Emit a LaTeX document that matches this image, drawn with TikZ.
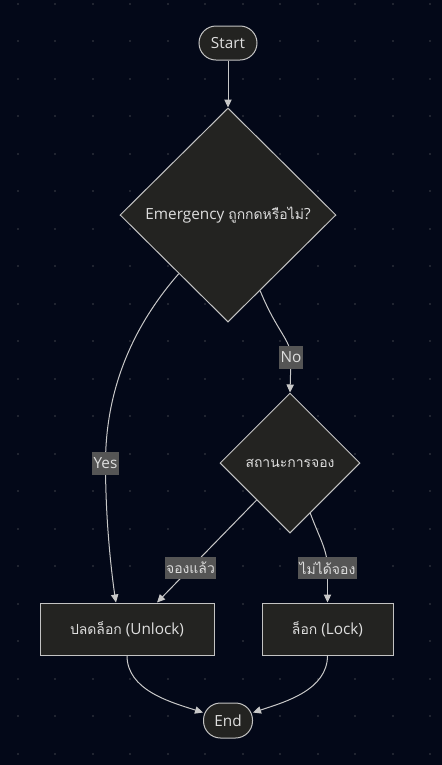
\documentclass[tikz,border=0pt]{standalone}
\usepackage{fontspec}
\setmainfont{Open Sans}
\newfontfamily\thai[Script=Thai,Scale=0.91]{Loma}
\usetikzlibrary{arrows.meta,shapes.geometric}
\definecolor{bgc}{RGB}{3,8,24}
\definecolor{dotc}{RGB}{32,36,48}
\definecolor{nfill}{RGB}{35,35,33}
\definecolor{nline}{RGB}{195,195,195}
\definecolor{eline}{RGB}{200,200,200}
\definecolor{lblbg}{RGB}{85,85,85}
\definecolor{txt}{RGB}{222,222,222}
\tikzset{
  base/.style={draw=nline, fill=nfill, line width=0.75pt, text=txt, font=\fontsize{11.5}{14}\selectfont, inner sep=0pt},
  term/.style={base, rectangle, rounded corners=12.75pt},
  boxnode/.style={base, rectangle, minimum height=39pt},
  decision/.style={base, diamond, aspect=1},
  lbl/.style={fill=lblbg, text=txt, font=\fontsize{11.5}{14}\selectfont, inner xsep=1pt, inner ysep=0pt, minimum height=17pt},
  edge/.style={draw=eline, line width=0.75pt, -{Triangle[length=6pt,width=5.5pt]}},
  plain/.style={draw=eline, line width=0.75pt}
}
\begin{document}
\begin{tikzpicture}[x={(0.75pt,0)},y={(0,-0.75pt)}]
\fill[bgc] (0,0) rectangle (442,765);
\useasboundingbox (0,0) rectangle (442,765);
\foreach \i in {0,...,11}{
  \foreach \j in {0,...,20}{
    \fill[dotc] ({17.7+37.5*\i-1},{3.7+37.5*\j-1}) rectangle ++(2,2);
  }
}
% nodes
\node[term, minimum width=43.5pt, minimum height=25.5pt] (start) at (228,43) {Start};
\node[decision, minimum width=162pt, minimum height=160.5pt] (d1) at (228,215) {Emergency {\thai ถูกกดหรือไม่}?};
\node[decision, minimum width=105pt, minimum height=105pt] (d2) at (290,463) {\thai สถานะการจอง};
\node[boxnode, minimum width=130.5pt] (unlock) at (127,629) {{\thai ปลดล็อก} (Unlock)};
\node[boxnode, minimum width=98.25pt] (lock) at (327.5,629) {{\thai ล็อก} (Lock)};
\node[term, minimum width=36.75pt, minimum height=26.25pt] (end) at (228,720.5) {End};
% label positions
\coordinate (pyes) at (105.5,463.5);
\coordinate (pno) at (291,357.5);
\coordinate (pbooked) at (190.5,568);
\coordinate (pnot) at (327.5,568);
% edges
\draw[edge] (start) -- (d1.north);
\draw[plain] (d1.230) .. controls (140,318) and (105.5,380) .. (pyes);
\draw[edge] (pyes) .. controls (105.5,540) and ([xshift=-8.25pt]unlock.north) .. ([xshift=-8.25pt]unlock.north);
\draw[plain] (d1.293) .. controls (277,332) and (291,340) .. (pno);
\draw[edge] (pno) -- (d2.north);
\draw[plain] (d2.228) -- (pbooked);
\draw[edge] (pbooked) -- ([xshift=22.5pt]unlock.north);
\draw[plain] (d2.292) .. controls (319,537) and (327.5,550) .. (pnot);
\draw[edge] (pnot) -- (lock.north);
\draw[edge] (unlock.south) .. controls (127,690) and (170,702) .. ([yshift=6pt]end.west);
\draw[edge] (lock.south) .. controls (327.5,690) and (285,702) .. ([yshift=6pt]end.east);
% labels
\node[lbl] (yes) at (pyes) {Yes};
\node[lbl] (no) at (pno) {No};
\node[lbl] (booked) at (pbooked) {\thai จองแล้ว};
\node[lbl] (notbooked) at (pnot) {\thai ไม่ได้จอง};
\end{tikzpicture}
\end{document}
